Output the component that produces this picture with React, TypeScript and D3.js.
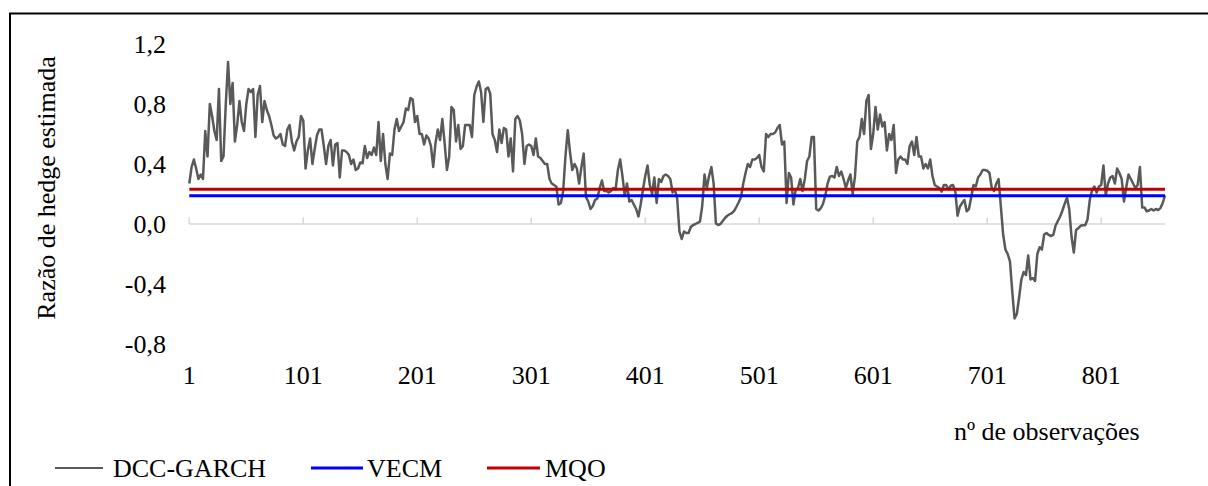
import React from 'react';
import * as d3 from 'd3';

// ---- data ----
const seriesNames = ['DCC-GARCH', 'VECM', 'MQO'];
// DCC-GARCH estimated hedge ratio, sampled every 2nd observation (obs 1, 3, 5, ... 857)
const SAMPLE_STEP = 2;
const dccGarch = [
  0.27,0.38,0.43,0.37,0.30,0.33,0.30,0.62,0.45,0.80,
  0.72,0.62,0.56,0.90,0.42,0.45,0.80,1.08,0.80,0.94,
  0.55,0.66,0.82,0.68,0.62,0.80,0.90,0.88,0.90,0.58,
  0.86,0.92,0.68,0.82,0.76,0.72,0.66,0.59,0.57,0.58,
  0.60,0.53,0.52,0.63,0.66,0.55,0.49,0.55,0.58,0.72,
  0.69,0.37,0.49,0.57,0.40,0.50,0.59,0.63,0.63,0.52,
  0.40,0.52,0.56,0.39,0.53,0.54,0.31,0.49,0.49,0.48,
  0.46,0.40,0.43,0.36,0.37,0.41,0.405,0.52,0.44,0.48,
  0.46,0.51,0.46,0.68,0.42,0.60,0.40,0.30,0.47,0.46,
  0.63,0.70,0.62,0.65,0.68,0.77,0.76,0.84,0.83,0.68,
  0.72,0.60,0.60,0.53,0.59,0.57,0.52,0.38,0.54,
  0.63,0.56,0.70,0.54,0.36,0.45,0.78,0.76,0.55,0.66,
  0.50,0.52,0.66,0.66,0.66,0.58,0.86,0.915,0.95,0.88,
  0.68,0.90,0.91,0.87,0.60,0.56,0.48,0.63,0.54,0.64,
  0.63,0.45,0.57,0.35,0.70,0.72,0.69,0.60,0.40,0.52,
  0.53,0.52,0.46,0.57,0.45,0.44,0.42,0.40,0.40,0.30,
  0.27,0.26,0.25,0.13,0.14,0.22,0.45,0.625,0.48,0.36,
  0.40,0.37,0.27,0.38,0.47,0.18,0.15,0.10,0.12,0.16,
  0.17,0.24,0.29,0.22,0.22,0.21,0.22,0.24,0.23,0.36,
  0.43,0.32,0.19,0.27,0.15,0.16,0.13,0.10,0.05,0.13,
  0.23,0.32,0.39,0.26,0.20,0.31,0.14,0.30,0.28,0.32,
  0.33,0.32,0.30,0.21,0.23,0.17,-0.05,
  -0.10,-0.05,-0.06,-0.06,-0.02,-0.007,0.00,0.008,0.016,0.12,
  0.33,0.24,0.32,0.38,0.27,0.004,-0.007,0.00,0.02,0.04,
  0.055,0.065,0.073,0.088,0.115,0.145,0.178,0.27,0.34,0.40,
  0.38,0.43,0.43,0.44,0.46,0.38,0.35,0.60,0.58,0.60,
  0.60,0.61,0.64,0.66,0.53,0.55,0.14,0.34,0.31,0.13,
  0.23,0.24,0.30,0.22,0.30,0.42,0.45,0.58,0.58,0.10,
  0.09,0.105,0.135,0.19,0.27,0.316,0.32,0.31,0.38,0.32,
  0.35,0.30,0.24,0.29,0.33,0.20,0.316,0.55,0.58,0.70,
  0.60,0.82,0.86,0.50,0.60,0.78,0.63,0.73,0.65,0.68,
  0.49,0.60,0.56,0.66,0.34,0.43,0.45,0.43,0.43,0.40,
  0.52,0.55,0.46,0.58,0.45,0.45,0.37,
  0.40,0.37,0.43,0.32,0.26,0.25,0.24,0.216,0.26,0.26,
  0.23,0.255,0.26,0.22,0.055,0.115,0.14,0.16,0.085,0.10,
  0.18,0.26,0.25,0.31,0.33,0.36,0.36,0.355,0.34,0.24,
  0.22,0.27,0.30,0.116,-0.07,-0.17,-0.20,-0.25,-0.45,-0.63,
  -0.60,-0.49,-0.37,-0.32,-0.34,-0.21,-0.37,-0.36,-0.38,-0.20,
  -0.155,-0.17,-0.07,-0.06,-0.073,-0.08,-0.073,-0.01,0.02,0.05,
  0.09,0.135,0.175,0.10,-0.085,-0.19,-0.04,-0.028,-0.012,-0.008,
  -0.008,0.03,0.16,0.225,0.25,0.21,0.25,0.26,0.39,0.19,
  0.27,0.31,0.32,0.27,0.37,0.34,0.30,0.15,0.245,0.33,
  0.30,0.27,0.24,0.26,0.38,0.11,0.11,0.085,0.09,0.10,
  0.09,0.10,0.093,0.106,0.14,0.19,
];
const vecmValue = 0.189;
const mqoValue = 0.231;
const firstObs = 1;
const lastObs = 857;
const xTickLabels = [1, 101, 201, 301, 401, 501, 601, 701, 801];
const yTickValues = [1.2, 0.8, 0.4, 0.0, -0.4, -0.8];
const yTitle = 'Razão de hedge estimada';
const xTitle = 'nº de observações';

const FONT = "'Liberation Serif'";
const COLORS = { dcc: '#595959', vecm: '#0000FF', mqo: '#C00000', axis: '#D9D9D9' };

export default function App() {
  const W = 1208;
  const H = 486;
  const x = d3.scaleLinear().domain([firstObs, lastObs]).range([189.3, 1165]);
  const y = d3.scaleLinear().domain([-0.8, 1.2]).range([344, 44]);

  const pts: [number, number][] = dccGarch.map((v, k) => [firstObs + k * SAMPLE_STEP, v]);
  const lineGen = d3
    .line<[number, number]>()
    .x((d) => x(d[0]))
    .y((d) => y(d[1]));
  const flat = (v: number): [number, number][] => [
    [firstObs, v],
    [lastObs, v],
  ];

  const fmt = (v: number) => d3.format('.1f')(v).replace('.', ',').replace('\u2212', '-');
  const ts: React.CSSProperties = { fontFamily: FONT, fontSize: '26px' };

  const legendItems = [
    { name: seriesNames[0], color: COLORS.dcc, w: 2, x1: 55, x2: 103, tx: 113 },
    { name: seriesNames[1], color: COLORS.vecm, w: 3, x1: 311, x2: 363, tx: 367 },
    { name: seriesNames[2], color: COLORS.mqo, w: 3, x1: 487, x2: 540, tx: 545 },
  ];

  return (
    <svg width={W} height={H} style={{ position: 'absolute', left: 0, top: 0, display: 'block', background: '#fff' }}>
      <rect x={0} y={0} width={W} height={H} fill="#fff" />
      <rect x={10} y={13.5} width={1400} height={700} fill="none" stroke="#000" strokeWidth={2} />

      {/* y tick labels */}
      {yTickValues.map((v) => (
        <text key={v} x={166} y={y(v)} dy="0.34em" textAnchor="end" style={ts} fill="#000">
          {fmt(v)}
        </text>
      ))}

      {/* x axis at zero */}
      <line x1={x(firstObs)} x2={x(lastObs)} y1={y(0)} y2={y(0)} stroke={COLORS.axis} strokeWidth={1.5} />
      {xTickLabels.map((t) => (
        <line key={'t' + t} x1={x(t)} x2={x(t)} y1={y(0)} y2={y(0) - 6.5} stroke={COLORS.axis} strokeWidth={1.5} />
      ))}
      {xTickLabels.map((t) => (
        <text key={'l' + t} x={x(t)} y={384} textAnchor="middle" style={ts} fill="#000">
          {t}
        </text>
      ))}

      {/* series */}
      <path d={lineGen(pts) || ''} fill="none" stroke={COLORS.dcc} strokeWidth={2.5} strokeLinejoin="round" />
      <path d={lineGen(flat(vecmValue)) || ''} fill="none" stroke={COLORS.vecm} strokeWidth={3} />
      <path d={lineGen(flat(mqoValue)) || ''} fill="none" stroke={COLORS.mqo} strokeWidth={3} />

      {/* titles */}
      <text transform="translate(55,188) rotate(-90)" textAnchor="middle" style={ts} fill="#000">
        {yTitle}
      </text>
      <text x={954} y={440} style={ts} fill="#000">
        {xTitle}
      </text>

      {/* legend */}
      {legendItems.map((it) => (
        <g key={it.name}>
          <line x1={it.x1} x2={it.x2} y1={468} y2={468} stroke={it.color} strokeWidth={it.w} />
          <text x={it.tx} y={468} dy="0.34em" style={ts} fill="#000">
            {it.name}
          </text>
        </g>
      ))}
    </svg>
  );
}
